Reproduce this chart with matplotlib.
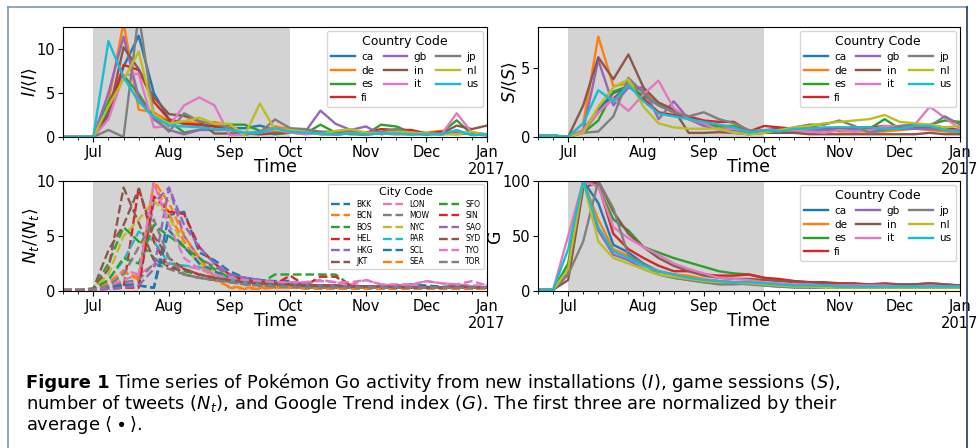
import numpy as np
import matplotlib
matplotlib.use("Agg")
import matplotlib.pyplot as plt
from matplotlib.lines import Line2D

# weekly samples (W-SUN periods), first week = Jun 13-19 2016
n_weeks = 29
month_ticks = [2, 7, 11, 15, 20, 24, 28]
month_labels = ["Jul", "Aug", "Sep", "Oct", "Nov", "Dec", "Jan\n2017"]
shade_span = (2, 15)

countries = ["ca", "de", "es", "fi", "gb", "in", "it", "jp", "nl", "us"]

# new installations, normalized
I_ca = [0, 0, 0, 3.0, 8.0, 11.5, 5.0, 2.0, 1.5, 1.4, 1.2, 1.0, 1.0, 1.3, 0.8, 0.8, 0.9, 0.3, 0.3, 0.4, 0.3, 0.5, 0.4, 0.3, 0.4, 0.3, 0.5, 0.3, 0.3]
I_de = [0, 0, 0, 4.0, 13.0, 3.1, 2.8, 1.8, 1.7, 1.6, 1.7, 1.3, 0.3, 0.5, 1.2, 0.9, 0.5, 0.4, 0.3, 0.4, 0.3, 0.4, 0.3, 0.4, 0.5, 0.7, 0.5, 0.4, 0.3]
I_es = [0, 0, 0, 4.0, 7.0, 4.9, 2.2, 1.8, 0.5, 0.8, 1.4, 1.4, 1.4, 0.7, 0.3, 0.5, 0.4, 1.4, 0.5, 0.3, 0.3, 1.4, 1.2, 0.5, 0.3, 0.5, 1.9, 0.3, 0.2]
I_fi = [0, 0, 0, 2.5, 8.2, 7.6, 4.0, 2.0, 1.5, 1.4, 1.2, 1.0, 0.3, 0.5, 0.6, 0.5, 0.4, 0.6, 0.3, 0.4, 0.5, 0.9, 0.8, 0.8, 0.4, 0.6, 0.4, 0.5, 0.3]
I_gb = [0, 0, 0, 5.0, 11.4, 4.5, 2.0, 0.8, 0.3, 0.8, 0.8, 0.8, 0.4, 0.6, 0.6, 0.5, 0.6, 3.0, 1.5, 0.8, 1.2, 0.3, 0.5, 0.4, 0.3, 0.4, 0.5, 0.3, 0.2]
I_in = [0, 0, 0, 2.5, 10.2, 7.7, 4.5, 2.6, 2.4, 1.8, 0.4, 0.4, 0.4, 0.3, 0.4, 0.5, 0.5, 0.4, 0.5, 0.4, 0.3, 0.4, 0.5, 0.4, 0.3, 0.4, 1.3, 0.9, 1.3]
I_it = [0, 0, 0, 2.0, 7.0, 7.2, 1.1, 1.2, 3.6, 4.5, 3.6, 0.2, 0.3, 0.5, 0.8, 0.5, 0.3, 0.4, 0.3, 0.5, 0.3, 0.4, 0.3, 0.3, 0.4, 0.3, 2.7, 0.5, 0.3]
I_jp = [0, 0, 0, 0.8, 0.0, 14.0, 2.3, 0.6, 2.7, 1.8, 1.5, 1.0, 0.3, 0.5, 2.0, 1.0, 0.9, 0.6, 0.6, 0.7, 0.5, 0.6, 0.9, 0.5, 0.4, 0.4, 0.3, 0.4, 0.3]
I_nl = [0, 0, 0, 3.5, 6.5, 9.7, 2.5, 1.5, 1.8, 2.2, 1.5, 1.5, 0.2, 3.8, 0.8, 0.8, 0.6, 0.3, 0.7, 0.9, 0.5, 0.4, 0.6, 0.5, 0.4, 0.3, 0.3, 0.6, 0.2]
I_us = [0, 0, 0, 10.9, 6.8, 4.0, 2.3, 1.3, 1.2, 1.1, 0.9, 0.8, 0.5, 0.5, 1.0, 0.6, 0.5, 0.4, 0.3, 0.4, 0.3, 0.4, 0.4, 0.3, 0.3, 0.3, 0.8, 0.2, 0.3]

# game sessions, normalized
S_ca = [0.1, 0.1, 0, 0.5, 2.0, 3.2, 3.6, 3.4, 2.4, 1.8, 1.4, 1.0, 0.8, 0.6, 0.3, 0.5, 0.6, 0.6, 0.6, 0.6, 0.7, 0.6, 0.6, 0.6, 0.6, 0.6, 0.7, 0.5, 0.4]
S_de = [0.1, 0.1, 0, 1.0, 7.3, 3.7, 3.9, 3.3, 2.5, 2.0, 1.5, 1.0, 0.8, 0.6, 0.5, 0.3, 0.4, 0.4, 0.4, 0.5, 0.4, 0.4, 0.4, 0.4, 0.5, 0.6, 0.5, 0.4, 0.3]
S_es = [0.1, 0.1, 0, 0.3, 1.2, 3.3, 3.7, 3.0, 2.3, 1.8, 1.3, 0.9, 0.8, 0.8, 0.4, 0.3, 0.4, 0.6, 0.8, 0.6, 0.5, 0.5, 0.6, 1.3, 0.6, 0.7, 0.9, 1.2, 1.1]
S_fi = [0.1, 0.1, 0, 0.4, 1.8, 2.8, 3.7, 2.8, 1.8, 1.6, 1.5, 1.2, 1.1, 1.1, 0.4, 0.8, 0.7, 0.6, 0.6, 0.6, 0.6, 0.7, 0.7, 0.8, 0.7, 0.7, 0.8, 0.7, 0.5]
S_gb = [0.1, 0.1, 0, 0.5, 5.6, 2.3, 3.6, 3.6, 1.3, 2.6, 1.3, 0.8, 0.6, 0.5, 0.4, 0.5, 0.5, 0.5, 0.5, 0.5, 0.5, 0.5, 0.5, 0.6, 0.6, 0.6, 0.6, 0.5, 0.5]
S_in = [0.1, 0.1, 0, 2.3, 5.8, 4.2, 6.0, 3.6, 2.5, 2.0, 0.3, 0.3, 0.35, 0.3, 0.2, 0.3, 0.3, 0.3, 0.2, 0.2, 0.2, 0.2, 0.2, 0.2, 0.2, 0.2, 0.3, 0.2, 0.2]
S_it = [0.1, 0.1, 0, 0.5, 1.8, 2.8, 1.9, 3.1, 4.1, 2.1, 1.3, 1.0, 0.5, 0.6, 0.4, 0.5, 0.5, 0.5, 0.4, 0.3, 0.5, 0.4, 0.5, 0.8, 0.8, 0.9, 2.2, 1.4, 0.6]
S_jp = [0.1, 0.1, 0, 0.3, 0.4, 1.5, 4.3, 3.2, 2.3, 1.8, 1.5, 1.8, 1.3, 1.0, 0.5, 0.4, 0.5, 0.7, 0.9, 0.9, 1.2, 0.8, 0.3, 0.5, 0.8, 0.9, 0.8, 1.5, 0.9]
S_nl = [0.1, 0.1, 0, 0.3, 2.2, 3.6, 4.2, 2.2, 1.0, 0.7, 0.6, 0.6, 0.6, 0.3, 0.2, 0.3, 0.5, 0.7, 0.8, 1.0, 1.1, 1.2, 1.3, 1.6, 1.1, 1.0, 0.9, 0.7, 0.8]
S_us = [0.1, 0.1, 0, 1.0, 3.4, 2.6, 3.8, 2.6, 1.7, 1.5, 1.3, 1.1, 0.9, 0.7, 0.3, 0.5, 0.4, 0.6, 0.6, 0.7, 0.7, 0.7, 0.7, 0.6, 0.6, 0.8, 0.8, 0.5, 0.4]

cities = ["BKK", "BCN", "BOS", "HEL", "HKG", "JKT", "LON", "MOW", "NYC",
          "PAR", "SCL", "SEA", "SFO", "SIN", "SAO", "SYD", "TYO", "TOR"]

# tweets per city, normalized
N_BKK = [0.15, 0.15, 0.2, 0.4, 0.6, 0.5, 0.3, 6.9, 7.2, 3.5, 2.8, 1.8, 1.2, 1.0, 0.9, 0.9, 0.6, 0.5, 0.5, 0.4, 0.4, 0.3, 0.5, 0.6, 0.5, 0.4, 0.4, 0.4, 0.3]
N_BCN = [0.1, 0.1, 0.1, 0.5, 1.7, 1.2, 9.8, 7.0, 4.5, 2.5, 1.0, 0.4, 0.3, 0.3, 0.3, 0.3, 0.3, 0.3, 0.3, 0.3, 0.3, 0.3, 0.3, 0.3, 0.3, 0.3, 0.3, 0.3, 0.3]
N_BOS = [0.1, 0.1, 0.2, 2.5, 5.8, 4.5, 3.0, 2.2, 1.8, 1.5, 1.2, 1.0, 0.8, 0.7, 1.5, 1.5, 1.5, 1.5, 1.5, 0.5, 0.4, 0.4, 0.3, 0.3, 0.3, 0.3, 0.3, 0.2, 0.2]
N_HEL = [0.1, 0.1, 0.1, 0.3, 0.3, 9.4, 4.5, 2.0, 2.0, 1.5, 1.2, 1.0, 0.8, 0.7, 0.6, 1.4, 0.5, 0.4, 0.4, 0.3, 0.3, 0.3, 0.3, 0.3, 0.3, 0.3, 0.3, 0.3, 0.3]
N_HKG = [0.1, 0.1, 0.1, 0.3, 0.5, 0.8, 8.0, 9.4, 5.0, 3.0, 2.2, 1.5, 1.2, 1.0, 0.8, 0.7, 0.6, 0.5, 0.5, 0.4, 0.4, 0.4, 0.4, 0.4, 0.4, 0.3, 0.3, 0.3, 0.3]
N_JKT = [0.1, 0.1, 0.1, 2.0, 9.4, 6.2, 2.8, 2.5, 1.5, 1.2, 1.0, 0.9, 0.8, 0.7, 0.6, 0.6, 0.5, 0.5, 0.5, 0.4, 0.4, 0.4, 0.4, 0.3, 0.3, 0.3, 0.3, 0.3, 0.3]
N_LON = [0.15, 0.15, 0.1, 0.5, 1.9, 1.5, 2.4, 2.5, 2.3, 2.0, 1.5, 1.2, 1.0, 0.8, 0.8, 0.8, 0.8, 1.0, 0.8, 0.6, 1.0, 0.6, 0.5, 0.5, 0.9, 0.7, 0.6, 0.5, 0.5]
N_MOW = [0.1, 0.1, 0.1, 0.5, 0.8, 1.0, 2.5, 2.0, 1.5, 1.2, 1.0, 0.8, 0.6, 0.5, 0.4, 0.4, 0.3, 0.3, 0.3, 0.3, 0.3, 0.3, 0.3, 0.3, 0.3, 0.3, 0.3, 0.3, 0.3]
N_NYC = [0.1, 0.1, 0.2, 1.5, 5.0, 6.5, 8.2, 6.8, 4.0, 2.5, 1.8, 1.2, 1.0, 0.8, 0.6, 0.6, 0.5, 0.4, 0.4, 0.4, 0.4, 0.3, 0.3, 0.3, 0.3, 0.3, 0.3, 0.3, 0.3]
N_PAR = [0.1, 0.1, 0.1, 1.0, 2.8, 5.4, 4.5, 2.5, 2.3, 2.2, 1.5, 1.0, 0.8, 0.7, 0.6, 0.5, 0.4, 0.4, 0.4, 0.3, 0.3, 0.3, 0.3, 0.3, 0.3, 0.3, 0.3, 0.3, 0.3]
N_SCL = [0.1, 0.1, 0.1, 0.3, 0.5, 0.5, 0.3, 5.5, 4.0, 2.5, 1.8, 1.2, 1.0, 0.8, 0.7, 0.6, 0.5, 0.5, 0.4, 0.4, 0.4, 0.3, 0.3, 0.3, 0.3, 0.3, 0.3, 0.3, 0.3]
N_SEA = [0.1, 0.1, 0.1, 0.8, 1.8, 1.0, 10.0, 8.0, 5.0, 3.0, 1.2, 0.3, 0.2, 0.2, 0.3, 0.3, 0.2, 0.2, 0.2, 0.2, 0.2, 0.2, 0.2, 0.2, 0.2, 0.2, 0.2, 0.2, 0.2]
N_SFO = [0.1, 0.1, 0.2, 1.0, 3.0, 2.5, 6.0, 5.0, 4.0, 3.0, 2.0, 1.2, 1.0, 0.8, 0.7, 0.6, 0.5, 0.5, 0.4, 0.4, 0.4, 0.3, 0.3, 0.3, 0.3, 0.3, 0.3, 0.3, 0.3]
N_SIN = [0.1, 0.1, 0.1, 0.2, 0.3, 0.3, 8.6, 7.2, 7.0, 4.0, 2.5, 1.5, 1.0, 0.8, 0.7, 0.6, 0.5, 1.3, 1.3, 0.5, 0.4, 0.4, 0.3, 0.3, 0.3, 0.3, 0.3, 0.3, 0.3]
N_SAO = [0.1, 0.1, 0.1, 0.2, 0.3, 0.5, 2.0, 9.4, 6.0, 4.0, 2.5, 1.5, 1.2, 1.0, 0.8, 0.7, 0.6, 0.5, 0.5, 0.4, 0.4, 0.4, 0.4, 0.3, 0.3, 0.3, 0.3, 0.3, 0.3]
N_SYD = [0.1, 0.1, 0.2, 3.7, 6.0, 9.3, 5.0, 3.0, 2.0, 1.5, 1.2, 1.0, 0.8, 0.7, 0.6, 0.6, 0.5, 0.5, 0.5, 0.4, 0.4, 0.4, 0.4, 0.3, 0.3, 0.3, 0.5, 0.3, 0.3]
N_TYO = [0.15, 0.15, 0.1, 0.5, 1.0, 1.5, 9.8, 6.0, 3.0, 2.0, 1.5, 1.2, 1.0, 0.9, 0.8, 0.8, 0.8, 0.9, 0.8, 0.8, 1.0, 0.6, 0.6, 0.6, 0.9, 0.7, 0.6, 0.9, 0.5]
N_TOR = [0.1, 0.1, 0.1, 0.5, 1.5, 4.0, 6.5, 3.0, 1.5, 1.2, 1.0, 0.8, 0.6, 0.5, 0.4, 0.4, 0.3, 0.3, 0.3, 0.3, 0.3, 0.3, 0.3, 0.3, 0.3, 0.3, 0.3, 0.3, 0.3]

# google trend index
G_ca = [1, 1, 20, 100, 80, 42, 35, 25, 18, 15, 13, 10, 9, 8, 7, 6, 5, 4, 4, 4, 3, 3, 3, 3, 3, 3, 3, 3, 3]
G_de = [1, 1, 15, 100, 65, 38, 32, 24, 18, 15, 14, 11, 9, 8, 8, 7, 6, 5, 4, 4, 4, 3, 3, 3, 3, 3, 3, 3, 3]
G_es = [1, 1, 25, 100, 95, 65, 55, 40, 35, 30, 26, 22, 18, 16, 15, 12, 10, 9, 8, 7, 7, 6, 6, 5, 5, 6, 6, 5, 5]
G_fi = [1, 1, 15, 100, 97, 52, 38, 30, 23, 18, 18, 15, 14, 14, 15, 12, 11, 9, 8, 8, 7, 7, 6, 7, 6, 6, 7, 6, 5]
G_gb = [1, 1, 15, 100, 55, 33, 28, 20, 15, 12, 10, 8, 7, 7, 6, 5, 4, 4, 3, 3, 3, 3, 3, 3, 3, 3, 3, 3, 3]
G_in = [1, 1, 10, 93, 100, 72, 52, 40, 30, 23, 18, 14, 12, 11, 11, 10, 9, 8, 7, 7, 6, 6, 6, 6, 6, 6, 7, 6, 5]
G_it = [1, 1, 50, 100, 95, 58, 48, 40, 33, 25, 20, 16, 12, 11, 10, 8, 7, 6, 6, 5, 5, 5, 5, 5, 4, 4, 5, 4, 4]
G_jp = [1, 1, 15, 45, 100, 75, 32, 25, 15, 12, 10, 8, 6, 6, 7, 5, 4, 3, 3, 3, 3, 3, 3, 3, 3, 3, 3, 3, 3]
G_nl = [1, 1, 20, 100, 45, 30, 25, 20, 15, 13, 11, 9, 8, 8, 7, 6, 5, 4, 4, 3, 3, 3, 3, 3, 3, 3, 3, 3, 3]
G_us = [1, 1, 38, 100, 58, 36, 30, 23, 18, 15, 12, 10, 9, 8, 8, 7, 6, 5, 5, 5, 4, 4, 4, 4, 4, 4, 4, 4, 4]

I_data = [I_ca, I_de, I_es, I_fi, I_gb, I_in, I_it, I_jp, I_nl, I_us]
S_data = [S_ca, S_de, S_es, S_fi, S_gb, S_in, S_it, S_jp, S_nl, S_us]
G_data = [G_ca, G_de, G_es, G_fi, G_gb, G_in, G_it, G_jp, G_nl, G_us]
N_data = [N_BKK, N_BCN, N_BOS, N_HEL, N_HKG, N_JKT, N_LON, N_MOW, N_NYC,
          N_PAR, N_SCL, N_SEA, N_SFO, N_SIN, N_SAO, N_SYD, N_TYO, N_TOR]

colors = plt.rcParams['axes.prop_cycle'].by_key()['color']
weeks = np.arange(n_weeks)

W, H = 979, 448
fig = plt.figure(figsize=(W / 100, H / 100), dpi=100)


def px_axes(x0, y0, x1, y1):
    return fig.add_axes([x0 / W, 1 - y1 / H, (x1 - x0) / W, (y1 - y0) / H])


def style_time_axis(ax, ylim, yticks, ylabel, label_x):
    ax.axvspan(*shade_span, color='lightgray', lw=0, zorder=0)
    ax.set_xlim(0, n_weeks - 1)
    ax.set_ylim(*ylim)
    ax.set_xticks(month_ticks)
    ax.set_xticklabels(month_labels)
    ax.set_xticks(weeks, minor=True)
    ax.set_yticks(yticks)
    ax.tick_params(labelsize=10.5, pad=2)
    ax.set_xlabel("Time", fontsize=12.5)
    ax.xaxis.set_label_coords(0.5, -0.19)
    ax.set_ylabel(ylabel, fontsize=12.5)
    ax.yaxis.set_label_coords(label_x, 0.5)


def country_legend(ax):
    leg = ax.legend(title="Country Code", ncol=3, loc='upper right',
                    fontsize=7.5, title_fontsize=9, handlelength=2.3,
                    handletextpad=0.6, columnspacing=0.9, labelspacing=0.35,
                    borderaxespad=0.4)
    return leg


# I panel
ax1 = px_axes(63, 27, 487, 137)
for i, name in enumerate(countries):
    ax1.plot(weeks, I_data[i], color=colors[i], lw=1.7, label=name)
style_time_axis(ax1, (0, 12.5), [0, 5, 10], r"$I/\langle I\rangle$", -0.056)
country_legend(ax1)

# S panel
ax2 = px_axes(538, 27, 960, 137)
for i, name in enumerate(countries):
    ax2.plot(weeks, S_data[i], color=colors[i], lw=1.7, label=name)
style_time_axis(ax2, (0, 8), [0, 5], r"$S/\langle S\rangle$", -0.046)
country_legend(ax2)

# N panel
ax3 = px_axes(63, 181, 487, 291)
for i, name in enumerate(cities):
    ax3.plot(weeks, N_data[i], color=colors[i % 10], lw=1.7, ls='--', label=name)
style_time_axis(ax3, (0, 10), [0, 5, 10], r"$N_t/\langle N_t\rangle$", -0.052)
ax3.legend(title="City Code", ncol=3, loc='upper right', fontsize=5.5,
           title_fontsize=8, handlelength=2.6, handletextpad=0.8,
           columnspacing=1.3, labelspacing=0.33, borderaxespad=0.4)

# G panel
ax4 = px_axes(538, 181, 960, 291)
for i, name in enumerate(countries):
    ax4.plot(weeks, G_data[i], color=colors[i], lw=1.7, label=name)
style_time_axis(ax4, (0, 100), [0, 50, 100], "G", -0.08)
country_legend(ax4)

# frame around the figure
fig.add_artist(Line2D([8 / W, 8 / W], [0, 1 - 7 / H], color='#7f98b3', lw=1.2))
fig.add_artist(Line2D([8 / W, 967 / W], [1 - 7 / H, 1 - 7 / H], color='#7f98b3', lw=1.2))
fig.add_artist(Line2D([967 / W, 967 / W], [0, 1 - 7 / H], color='#1f3a66', lw=1.2))

# caption, sized so that the first line spans about the reference width
cap_lines = [
    "Time series of Pokémon Go activity from new installations ($I$), game sessions ($S$),",
    "number of tweets ($N_t$), and Google Trend index ($G$). The first three are normalized by their",
    r"average $\langle\bullet\rangle$.",
]
cap_base = [388, 409, 430]
x0 = 26
renderer = fig.canvas.get_renderer()
fs = 12
head = fig.text(x0 / W, 1 - cap_base[0] / H, "Figure 1", fontsize=fs,
                fontweight='bold', va='baseline')
body = fig.text(0, 1 - cap_base[0] / H, cap_lines[0], fontsize=fs, va='baseline')
w_total = head.get_window_extent(renderer).width + 5 + body.get_window_extent(renderer).width
fs = min(fs * (932 - x0) / w_total, 12.9)
head.set_fontsize(fs)
body.set_fontsize(fs)
hw = head.get_window_extent(renderer).width
body.set_x((x0 + hw + 5) / W)
for line, yb in zip(cap_lines[1:], cap_base[1:]):
    fig.text(x0 / W, 1 - yb / H, line, fontsize=fs, va='baseline')

fig.savefig("out.png", dpi=100)
